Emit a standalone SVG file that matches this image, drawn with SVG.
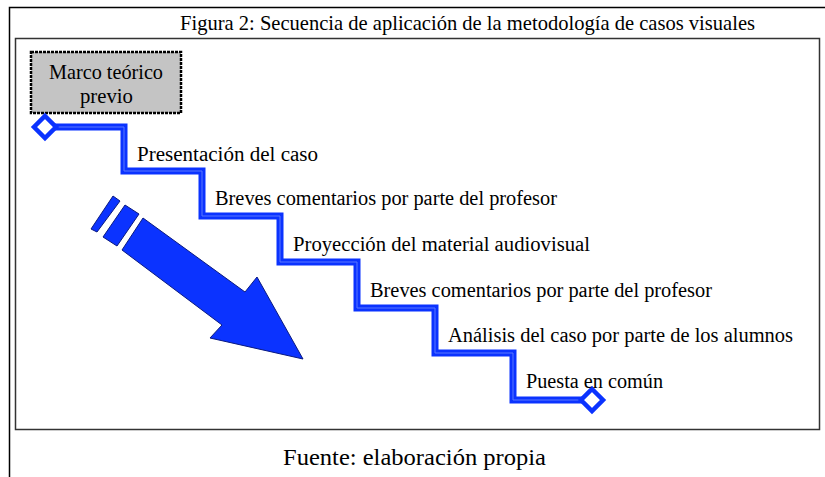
<svg xmlns="http://www.w3.org/2000/svg" width="825" height="477" viewBox="0 0 825 477">
<style>
.t{font-family:"Liberation Serif","Times New Roman",serif;fill:#000}
.step{font-size:20px}
.stair{fill:none;stroke:#0b33ff;stroke-width:7;stroke-linejoin:miter}
.stairc{fill:none;stroke:#5a78ff;stroke-width:1}
.dia{fill:#fff;stroke:#0b33ff;stroke-width:4.5}
</style>
<rect width="825" height="477" fill="#fff"/>
<g id="frame">
<path d="M9.5 477 V7.5 H825" fill="none" stroke="#000" stroke-width="1.5"/>
<rect x="15.5" y="38.5" width="804" height="391" fill="none" stroke="#333" stroke-width="1.5"/>
<text class="t" x="180" y="30" font-size="22" textLength="575" lengthAdjust="spacingAndGlyphs">Figura 2: Secuencia de aplicación de la metodología de casos visuales</text>
<text class="t" x="283" y="465" font-size="24" textLength="263" lengthAdjust="spacingAndGlyphs">Fuente: elaboración propia</text>
</g>
<g id="marco">
<rect x="31" y="52" width="150" height="61" fill="#c4c4c4" stroke="#000" stroke-width="2.5" stroke-dasharray="3 1"/>
<text class="t" x="49" y="79" font-size="21" textLength="114" lengthAdjust="spacingAndGlyphs">Marco teórico</text>
<text class="t" x="80" y="103" font-size="21" textLength="53" lengthAdjust="spacingAndGlyphs">previo</text>
</g>
<g id="connectors">
<path class="stair" d="M45 127 H124 V171 H202 V216 H280 V262 H357 V308 H435 V353 H513 V400 H590"/>
<path class="stairc" d="M45 127 H124 V171 H202 V216 H280 V262 H357 V308 H435 V353 H513 V400 H590"/>
<path class="dia" d="M45 116 L56 127 L45 138 L34 127 Z"/>
<path class="dia" d="M592 389 L603 400 L592 411 L581 400 Z"/>
</g>
<g id="arrow" fill="#0b33ff" stroke="#0a1a80" stroke-width="1">
<path d="M113 196 L120 201 L97 232 L91 229 Z"/>
<path d="M125 205 L139 214 L117 246 L103 237 Z"/>
<path d="M143 218 L245 292 L257 277 L303 359 L210 338 L222 325 L122 250 Z"/>
</g>
<g id="steps" class="t step">
<text x="137" y="161" textLength="181" lengthAdjust="spacingAndGlyphs">Presentación del  caso</text>
<text x="215" y="205" textLength="342" lengthAdjust="spacingAndGlyphs">Breves comentarios por parte del profesor</text>
<text x="293" y="251" textLength="297" lengthAdjust="spacingAndGlyphs">Proyección del material  audiovisual</text>
<text x="370" y="297" textLength="342" lengthAdjust="spacingAndGlyphs">Breves comentarios por parte del profesor</text>
<text x="448" y="342" textLength="345" lengthAdjust="spacingAndGlyphs">Análisis del caso por parte de los alumnos</text>
<text x="526" y="388" textLength="137" lengthAdjust="spacingAndGlyphs">Puesta en común</text>
</g>
</svg>
